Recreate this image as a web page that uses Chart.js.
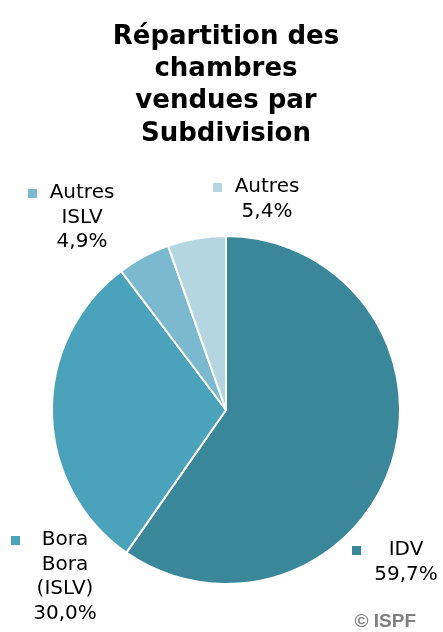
<!DOCTYPE html>
<html>
<head>
<meta charset="utf-8">
<script src="https://cdn.jsdelivr.net/npm/chart.js@4.4.0/dist/chart.umd.min.js"></script>
<style>
  html, body { margin: 0; padding: 0; background: #fff; }
  #wrap { width: 443px; height: 632px; position: relative; }
</style>
</head>
<body>
<div id="wrap"><canvas id="pie"></canvas></div>
<script>
// Données
const subdivisions = ['IDV', 'Bora Bora (ISLV)', 'Autres ISLV', 'Autres'];
const labelLines = [['IDV'], ['Bora', 'Bora', '(ISLV)'], ['Autres', 'ISLV'], ['Autres']];
const parts = [59.7, 30.0, 4.9, 5.4];
const couleurs = ['#3b879a', '#4aa3bb', '#7bb9ce', '#b4d6e1'];

// position des étiquettes (centre du texte, 1re ligne)
const labelPos = [
  { x: 406, y: 550, mx: 356 },
  { x: 65, y: 540, mx: 15 },
  { x: 82, y: 193, mx: 32 },
  { x: 267, y: 187, mx: 217 }
];

const fmt = v => v.toFixed(1).replace('.', ',') + '%';

const labelsPlugin = {
  id: 'pieLabels',
  afterDraw(chart) {
    const ctx = chart.ctx;
    ctx.save();
    ctx.font = '20px "DejaVu Sans"';
    ctx.textAlign = 'center';
    ctx.textBaseline = 'middle';
    parts.forEach((v, i) => {
      const p = labelPos[i];
      const lines = labelLines[i].concat([fmt(v)]);
      ctx.fillStyle = couleurs[i];
      ctx.fillRect(p.mx - 4, p.y - 4, 9, 9);
      ctx.fillStyle = '#000';
      lines.forEach((t, k) => ctx.fillText(t, p.x, p.y + k * 24.5));
    });
    // source
    ctx.font = 'bold 19px "Liberation Sans"';
    ctx.fillStyle = '#7f7f7f';
    ctx.textAlign = 'right';
    ctx.fillText('© ISPF', 416, 622);
    ctx.restore();
  }
};

new Chart(document.getElementById('pie'), {
  type: 'pie',
  data: {
    labels: subdivisions,
    datasets: [{
      data: parts,
      backgroundColor: couleurs,
      borderColor: '#ffffff',
      borderWidth: 2
    }]
  },
  options: {
    responsive: true,
    maintainAspectRatio: false,
    animation: false,
    layout: { padding: { left: 51, right: 42, top: 0, bottom: 47 } },
    plugins: {
      legend: { display: false },
      tooltip: { enabled: false },
      title: {
        display: true,
        text: ['Répartition des', 'chambres', 'vendues par', 'Subdivision'],
        color: '#000',
        font: { family: 'DejaVu Sans', size: 26, weight: 'bold', lineHeight: 1.24 },
        padding: { top: 21, bottom: 85 }
      }
    }
  },
  plugins: [labelsPlugin]
});
</script>
</body>
</html>
